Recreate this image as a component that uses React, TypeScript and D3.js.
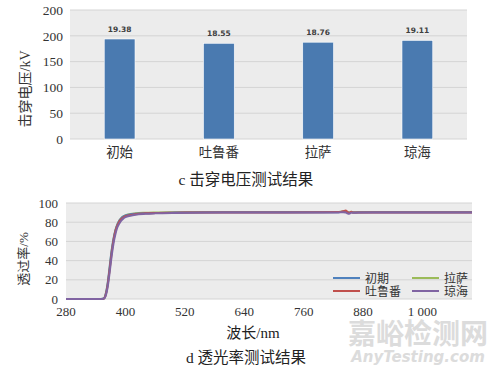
import React from "react";
import * as d3 from "d3";

// ---- Chart c: breakdown voltage ----
const barCategories = ["初始", "吐鲁番", "拉萨", "琼海"];
const barValues = [19.38, 18.55, 18.76, 19.11];
const barTickValues = [0, 5, 10, 15, 20, 25];
const barTickLabels = ["0", "50", "100", "150", "200", "200"];

// ---- Chart d: transmittance ----
const wavelengths = [280, 350, 356, 360, 364, 368, 372, 376, 380, 384, 388, 392, 396, 400, 410, 420, 440, 460, 500, 560, 640, 720, 800, 830, 840, 845, 848, 852, 856, 860, 870, 900, 1000, 1100];
const seriesNames = ["初期", "吐鲁番", "拉萨", "琼海"];
const sInitial = [0, 0, 0.5, 5, 16, 33, 50, 63, 72, 78, 82, 84.5, 86, 87, 88.2, 88.8, 89.4, 89.7, 90, 90.2, 90.3, 90.3, 90.3, 90.4, 90.9, 91.3, 90.4, 89.9, 90.7, 90.2, 90.2, 90.3, 90.3, 90.3];
const sTurpan = [0, 0, 0.3, 4, 14, 30, 47, 61, 71, 77, 81, 83.5, 85, 86.2, 87.6, 88.4, 89.2, 89.6, 89.9, 90.1, 90.2, 90.2, 90.3, 90.5, 91.5, 92.3, 90.8, 89.6, 90.9, 90.1, 90.2, 90.2, 90.2, 90.2];
const sLhasa = [0, 0, 0.4, 4.5, 15, 31, 49, 62, 72, 78, 82, 84.5, 86, 87.2, 88.5, 89.2, 89.8, 90.1, 90.4, 90.6, 90.6, 90.6, 90.6, 90.7, 91.1, 91.5, 90.6, 90.1, 90.8, 90.4, 90.5, 90.5, 90.5, 90.5];
const sQionghai = [0, 0, 0.2, 3, 12, 27, 44, 58, 68, 75, 79, 82, 84, 85.3, 86.8, 87.8, 88.7, 89.2, 89.7, 90, 90.1, 90.1, 90.1, 90.2, 90.4, 90.1, 89.3, 88.7, 89.9, 89.8, 90, 90.1, 90.1, 90.1];
const seriesColors = ["#4f81bd", "#c0504d", "#9bbb59", "#8064a2"];
const lineTicks = [280, 400, 520, 640, 760, 880, 1000];
const lineTickLabels = ["280", "400", "520", "640", "760", "880", "1 000"];
const lineYTicks = [0, 20, 40, 60, 80, 100];

const FONT = '"Liberation Serif", "Noto Sans CJK SC", serif';

export default function App() {
  // bar chart geometry
  const b = { l: 70, r: 467, t: 10, b: 139 };
  const bx = d3.scaleBand<string>().domain(barCategories).range([b.l, b.r]).paddingInner(0.69).paddingOuter(0.345);
  const by = d3.scaleLinear().domain([0, 25]).range([b.b, b.t]);

  // line chart geometry
  const p = { l: 66, r: 472, t: 203, b: 299 };
  const lx = d3.scaleLinear().domain([280, 1100]).range([p.l, p.r]);
  const ly = d3.scaleLinear().domain([0, 100]).range([p.b, p.t]);
  const allSeries = [sInitial, sTurpan, sLhasa, sQionghai];
  const line = d3.line<number>().x((_, i) => lx(wavelengths[i])).y((v) => ly(v)).curve(d3.curveMonotoneX);
  const drawOrder = [2, 0, 1, 3];

  const legend = [
    { i: 0, x: 333, y: 278 },
    { i: 2, x: 412, y: 278 },
    { i: 1, x: 333, y: 291 },
    { i: 3, x: 412, y: 291 },
  ];

  return (
    <svg width={500} height={369} style={{ position: "absolute", left: 0, top: 0 }} fontFamily={FONT}>
      <rect width={500} height={369} fill="#ffffff" />
      {/* ---- chart c ---- */}
      <rect x={b.l} y={b.t} width={b.r - b.l} height={b.b - b.t} fill="#ececec" />
      {barTickValues.map((t, i) => (
        <g key={"bt" + i}>
          <line x1={b.l} x2={b.r} y1={by(t)} y2={by(t)} stroke="#d4d4d4" strokeWidth={1} />
          <text x={63} y={by(t)} dy="0.35em" textAnchor="end" fontSize={13.5} fill="#333">{barTickLabels[i]}</text>
        </g>
      ))}
      {barCategories.map((c, i) => (
        <g key={"bar" + i}>
          <rect x={bx(c)} y={by(barValues[i])} width={bx.bandwidth()} height={by(0) - by(barValues[i])} fill="#4a7ab0" stroke="#ffffff" strokeWidth={0.6} />
          <text x={(bx(c) as number) + bx.bandwidth() / 2} y={by(barValues[i]) - 7} textAnchor="middle" fontSize={7.5} fontWeight="bold" fontFamily='"DejaVu Sans", sans-serif' fill="#404040">{barValues[i].toFixed(2)}</text>
          <text x={(bx(c) as number) + bx.bandwidth() / 2} y={157} textAnchor="middle" fontSize={13.5} fill="#333">{c}</text>
        </g>
      ))}
      <text transform="translate(30,89) rotate(-90)" textAnchor="middle" fontSize={14} fill="#333">击穿电压/kV</text>
      <text x={246} y={185} textAnchor="middle" fontSize={15.5} fill="#222">c 击穿电压测试结果</text>

      {/* ---- chart d ---- */}
      <rect x={p.l} y={p.t} width={p.r - p.l} height={p.b - p.t} fill="#ececec" />
      {lineYTicks.map((t) => (
        <g key={"ly" + t}>
          <line x1={p.l} x2={p.r} y1={ly(t)} y2={ly(t)} stroke="#d4d4d4" strokeWidth={1} />
          <text x={58} y={ly(t)} dy="0.35em" textAnchor="end" fontSize={13} fill="#333">{t}</text>
        </g>
      ))}
      {lineTicks.map((t, i) => (
        <text key={"lx" + t} x={lx(t)} y={316} textAnchor="middle" fontSize={13} fill="#333">{lineTickLabels[i]}</text>
      ))}
      {drawOrder.map((si) => (
        <path key={"s" + si} d={line(allSeries[si]) as string} fill="none" stroke={seriesColors[si]} strokeWidth={2} />
      ))}
      {legend.map((e) => (
        <g key={"lg" + e.i}>
          <line x1={e.x} x2={e.x + 27} y1={e.y} y2={e.y} stroke={seriesColors[e.i]} strokeWidth={2} />
          <text x={e.x + 32} y={e.y} dy="0.38em" fontSize={12} fill="#333">{seriesNames[e.i]}</text>
        </g>
      ))}
      <text transform="translate(28,259) rotate(-90)" textAnchor="middle" fontSize={13} fill="#333">透过率/%</text>
      <text x={253} y={338} textAnchor="middle" fontSize={15} fill="#222">波长/nm</text>
      <text x={246} y={363} textAnchor="middle" fontSize={15.5} fill="#222">d 透光率测试结果</text>

      {/* watermark */}
      <text x={418} y={344} textAnchor="middle" fontSize={28} fontWeight="bold" fontFamily='"Noto Sans CJK SC", sans-serif' fill="#d6d6d6" opacity={0.85}>嘉峪检测网</text>
      <text x={418} y={362} textAnchor="middle" fontSize={15} fontWeight="bold" fontStyle="italic" fontFamily='"DejaVu Sans", sans-serif' fill="#d6d6d6" opacity={0.85}>AnyTesting.com</text>
    </svg>
  );
}
